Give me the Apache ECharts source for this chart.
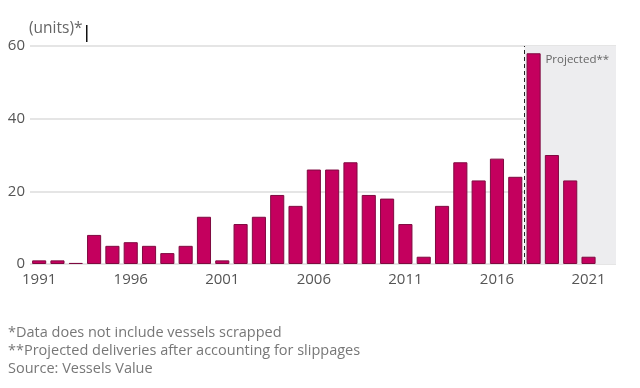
<!DOCTYPE html>
<html>
<head>
<meta charset="utf-8">
<script src="https://cdn.jsdelivr.net/npm/echarts@6/dist/echarts.min.js"></script>
<style>
html,body{margin:0;padding:0;background:#fff;}
#c{width:640px;height:388px;}
</style>
</head>
<body>
<div id="c"></div>
<script>
const years = ['1991','1992','1993','1994','1995','1996','1997','1998','1999','2000','2001','2002','2003','2004','2005','2006','2007','2008','2009','2010','2011','2012','2013','2014','2015','2016','2017','2018','2019','2020','2021','2022'];
const deliveries = [1,1,0.3,8,5,6,5,3,5,13,1,11,13,19,16,26,26,28,19,18,11,2,16,28,23,29,24,58,30,23,2,null];
const yTicks = [0,20,40,60];
const projectedStart = 26.5; // boundary between 2017 and 2018 (category index)
const projectedEnd = 31.5;
const footnotes = ['*Data does not include vessels scrapped','**Projected deliveries after accounting for slippages','Source: Vessels Value'];

const chart = echarts.init(document.getElementById('c'));
const font = '"Open Sans", Roboto, sans-serif';
chart.setOption({
  animation: false,
  grid: {left: 30, right: 24, top: 46, bottom: 124},
  xAxis: [{
    type: 'category',
    data: years,
    axisLine: {show: false},
    axisTick: {show: false},
    axisLabel: {interval: 4, color: '#555', fontSize: 15, fontFamily: font, margin: 8}
  }, {
    type: 'value', min: -0.5, max: 31.5, show: false
  }],
  yAxis: {
    type: 'value', min: 0, max: 60, interval: 20,
    axisLabel: {color: '#555', fontSize: 15, fontFamily: font, margin: 5},
    splitLine: {lineStyle: {color: '#dcdcdc', width: 1.5}},
    axisLine: {show: false}, axisTick: {show: false}
  },
  series: [{
    type: 'scatter', xAxisIndex: 1, data: [[0, 0]], symbolSize: 0, silent: true,
    markArea: {
      silent: true,
      itemStyle: {color: '#ededef'},
      label: {show: true, position: 'insideTopLeft', formatter: 'Projected**', color: '#666', fontSize: 11.5, fontFamily: font, offset: [16, 3]},
      data: [[{xAxis: projectedStart}, {xAxis: projectedEnd}]]
    },
    markLine: {
      silent: true, symbol: 'none',
      lineStyle: {color: '#222', type: [4, 3], width: 1},
      label: {show: false},
      data: [{xAxis: projectedStart}]
    }
  }, {
    type: 'bar',
    data: deliveries,
    barCategoryGap: '23%',
    itemStyle: {color: '#c4005e', borderColor: '#7f0a40', borderWidth: 1},
    z: 3
  }],
  graphic: [
    {type: 'text', left: 29, top: 21, style: {text: '(units)*', fill: '#666', fontSize: 15.5, fontFamily: font}},
    {type: 'rect', left: 86, top: 25, shape: {width: 1.5, height: 17}, style: {fill: '#111'}},
    {type: 'text', left: 8, top: 324, style: {text: footnotes.join('\n'), fill: '#777', fontSize: 14.5, lineHeight: 18, fontFamily: font}}
  ]
});
</script>
</body>
</html>
